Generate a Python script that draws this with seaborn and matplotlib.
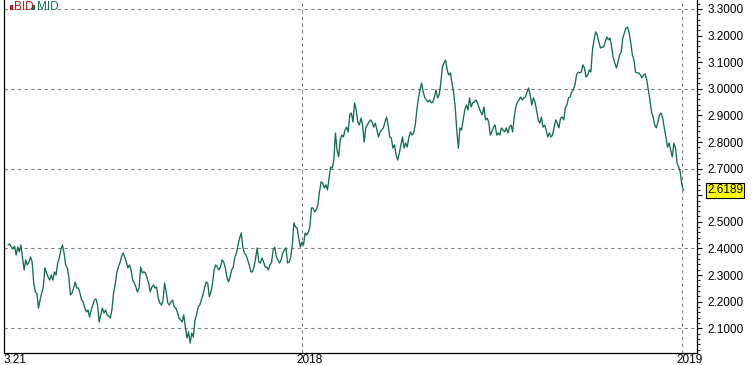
import numpy as np
import pandas as pd
import matplotlib
matplotlib.use("Agg")
import matplotlib.pyplot as plt
import matplotlib.patches as mpatches
from matplotlib.ticker import MultipleLocator
from matplotlib.transforms import ScaledTranslation, blended_transform_factory
import seaborn as sns

# ---- data ----
seg_a = [2.413, 2.417, 2.405, 2.398, 2.409, 2.375, 2.405, 2.387, 2.413, 2.364, 2.319, 2.357, 2.338, 2.349,
         2.368, 2.349, 2.270, 2.236, 2.232, 2.176, 2.206, 2.232, 2.255, 2.327, 2.308, 2.293, 2.281, 2.300,
         2.281, 2.312, 2.300, 2.345, 2.364, 2.394, 2.413, 2.383, 2.338, 2.327, 2.293, 2.225, 2.232, 2.251,
         2.274, 2.251, 2.251, 2.232, 2.206, 2.199, 2.176, 2.161, 2.169]
seg_b = [2.142, 2.169, 2.187, 2.206, 2.210, 2.187, 2.123, 2.150, 2.176, 2.157, 2.169, 2.150, 2.146, 2.138,
         2.169, 2.232, 2.263, 2.308, 2.330, 2.345, 2.368, 2.383, 2.368, 2.349, 2.327, 2.338, 2.319, 2.281,
         2.270, 2.255, 2.236, 2.251, 2.330, 2.308, 2.312, 2.308, 2.289, 2.270, 2.236, 2.255, 2.263, 2.251,
         2.255, 2.214, 2.195, 2.187, 2.206, 2.270, 2.236, 2.195, 2.187, 2.199, 2.206]
seg_c = [2.180, 2.176, 2.161, 2.138, 2.131, 2.123, 2.150, 2.104, 2.063, 2.086, 2.044, 2.082, 2.067, 2.131,
         2.150, 2.180, 2.187, 2.206, 2.225, 2.251, 2.274, 2.270, 2.218, 2.236, 2.270, 2.319, 2.338, 2.330,
         2.319, 2.330, 2.357, 2.349, 2.327, 2.293, 2.274, 2.293, 2.319, 2.330, 2.368, 2.383, 2.413, 2.439,
         2.458, 2.405, 2.383, 2.375, 2.357, 2.338, 2.312, 2.312, 2.330, 2.364, 2.402]
seg_d = [2.349, 2.345, 2.364, 2.349, 2.330, 2.330, 2.319, 2.338, 2.349, 2.394, 2.405, 2.368, 2.357, 2.345,
         2.357, 2.383, 2.394, 2.402, 2.345, 2.349, 2.368, 2.413, 2.496, 2.481, 2.477, 2.439, 2.405, 2.424,
         2.413, 2.458, 2.450, 2.462, 2.481, 2.552, 2.552, 2.537, 2.545, 2.563, 2.612, 2.650, 2.646, 2.627,
         2.639, 2.620, 2.665, 2.706, 2.702, 2.732, 2.834, 2.770, 2.744, 2.808]
seg_e = [2.826, 2.819, 2.845, 2.856, 2.838, 2.902, 2.909, 2.875, 2.947, 2.920, 2.875, 2.864, 2.890, 2.864,
         2.800, 2.853, 2.864, 2.875, 2.883, 2.875, 2.856, 2.871, 2.845, 2.819, 2.838, 2.845, 2.853, 2.875,
         2.894, 2.864, 2.819, 2.815, 2.777, 2.789, 2.751, 2.732, 2.758, 2.789, 2.819, 2.777, 2.796, 2.781,
         2.819, 2.838, 2.826, 2.834, 2.864, 2.920, 2.966, 2.996, 3.022, 2.988, 2.966, 2.958]
seg_f = [2.950, 2.958, 2.947, 2.950, 2.969, 2.996, 2.966, 2.977, 3.022, 3.082, 3.097, 3.108, 3.071, 3.052,
         3.060, 3.022, 2.988, 2.932, 2.845, 2.777, 2.853, 2.845, 2.883, 2.920, 2.939, 2.920, 2.966, 2.932,
         2.947, 2.950, 2.958, 2.947, 2.928, 2.913, 2.902, 2.932, 2.883, 2.890, 2.875, 2.826, 2.838, 2.856,
         2.864, 2.826, 2.834, 2.826, 2.853, 2.845, 2.838, 2.853, 2.834]
seg_g = [2.856, 2.864, 2.838, 2.894, 2.932, 2.950, 2.958, 2.969, 2.958, 2.966, 2.969, 2.988, 3.003, 2.977,
         2.939, 2.966, 2.950, 2.920, 2.883, 2.871, 2.894, 2.856, 2.864, 2.845, 2.819, 2.834, 2.819, 2.826,
         2.856, 2.883, 2.871, 2.853, 2.890, 2.894, 2.883, 2.928, 2.939, 2.966, 2.969, 2.988, 2.996, 3.014,
         3.052, 3.063, 3.060, 3.063, 3.090, 3.078, 3.044, 3.052, 3.071, 3.063, 3.146, 3.184]
seg_h = [3.214, 3.202, 3.176, 3.153, 3.157, 3.157, 3.176, 3.195, 3.184, 3.191, 3.157, 3.116, 3.097, 3.078,
         3.101, 3.127, 3.138, 3.191, 3.210, 3.229, 3.232, 3.210, 3.172, 3.127, 3.108, 3.063, 3.060, 3.060,
         3.052, 3.041, 3.052, 3.056, 3.033, 2.996, 2.958, 2.913, 2.894, 2.864, 2.853, 2.875, 2.902, 2.909,
         2.890, 2.853, 2.819, 2.781, 2.796, 2.770, 2.744, 2.796, 2.777, 2.721, 2.706, 2.687, 2.639, 2.6189]

values = seg_a + seg_b + seg_c + seg_d + seg_e + seg_f + seg_g + seg_h
first_date = "2017-03-25"
last_date = "2019-01-02"
x_start, x_end = "2017-03-21", "2019-01-15"
ytick_values = [2.1, 2.2, 2.3, 2.4, 2.5, 2.6, 2.7, 2.8, 2.9, 3.0, 3.1, 3.2, 3.3]
ytick_labels = ["2.1000", "2.2000", "2.3000", "2.4000", "2.5000", "", "2.7000",
                "2.8000", "2.9000", "3.0000", "3.1000", "3.2000", "3.3000"]
grid_levels = [2.1, 2.4, 2.7, 3.0, 3.3]
grid_dates = ["2018-01-01", "2019-01-01"]
xtick_dates = ["2017-03-21", "2018-01-01", "2019-01-01"]
xtick_labels = ["3.21", "2018", "2019"]
legend_names = ["BID", "MID"]
last_label = "2.6189"

dates = pd.date_range(first_date, last_date, periods=len(values))
df = pd.DataFrame({"date": dates, "MID": values})

# ---- style ----
sns.set_style("white")
plt.rcParams["font.family"] = ["Liberation Sans", "DejaVu Sans"]

W, H = 752, 365
fig = plt.figure(figsize=(W / 100, H / 100), dpi=100)
ax = fig.add_axes([4 / W, (H - 353) / H, (697 - 4) / W, 353 / H])

green = "#12704a"
red = "#c01818"

for g in grid_levels:
    ax.axhline(g, color="#808080", lw=0.8, ls=(0, (3, 3)), zorder=1)
for d in grid_dates:
    ax.axvline(pd.Timestamp(d), color="#808080", lw=0.8, ls=(0, (3, 3)), zorder=1)

sns.lineplot(data=df, x="date", y="MID", ax=ax, color=green, linewidth=0.95, zorder=3)

ax.set_xlim(pd.Timestamp(x_start), pd.Timestamp(x_end))
ax.set_ylim(2.0069, 3.3338)

for s in ["left", "bottom", "right"]:
    ax.spines[s].set_visible(True)
    ax.spines[s].set_color("black")
    ax.spines[s].set_linewidth(0.9)
ax.spines["top"].set_visible(False)

# y axis on the right
ax.yaxis.tick_right()
ax.set_yticks(ytick_values)
ax.set_yticklabels(ytick_labels)
ax.yaxis.set_minor_locator(MultipleLocator(0.02))
ax.tick_params(axis="y", which="major", direction="out", length=3.8, width=0.8,
               labelsize=8.5, pad=4, colors="black", right=True, left=False)
ax.tick_params(axis="y", which="minor", direction="out", length=2.0, width=0.8,
               right=True, left=False)

# x axis
ax.set_xticks([pd.Timestamp(d) for d in xtick_dates])
ax.set_xticklabels(xtick_labels)
ax.tick_params(axis="x", length=0, labelsize=8.5, pad=0.8, colors="black")
offs = [0, -6, -6]
for lab, o in zip(ax.get_xticklabels(), offs):
    lab.set_ha("left")
    lab.set_transform(lab.get_transform() + ScaledTranslation(o / 100, 0, fig.dpi_scale_trans))
ax.set_xlabel("")
ax.set_ylabel("")

# last value box
tr = blended_transform_factory(ax.transAxes, ax.transData)
ax.text(1.0 + 10 / 693, values[-1], last_label, transform=tr, ha="left", va="center",
        fontsize=8.5, color="black", clip_on=False, zorder=5,
        bbox=dict(boxstyle="square,pad=0.12", fc="#ffff00", ec="black", lw=0.8))

# legend: small colour marks + names
for (x0, name_x, col), name in zip([(10, 14, red), (32, 37, green)], legend_names):
    fig.patches.append(mpatches.Rectangle((x0 / W, 1 - 10 / H), 2.5 / W, 5 / H,
                                          transform=fig.transFigure, fc=col, ec="none"))
    fig.text(name_x / W, 1 - 7.5 / H, name, color=col, fontsize=8.5, va="center", ha="left")

fig.savefig("out.png", dpi=100, facecolor="white")
